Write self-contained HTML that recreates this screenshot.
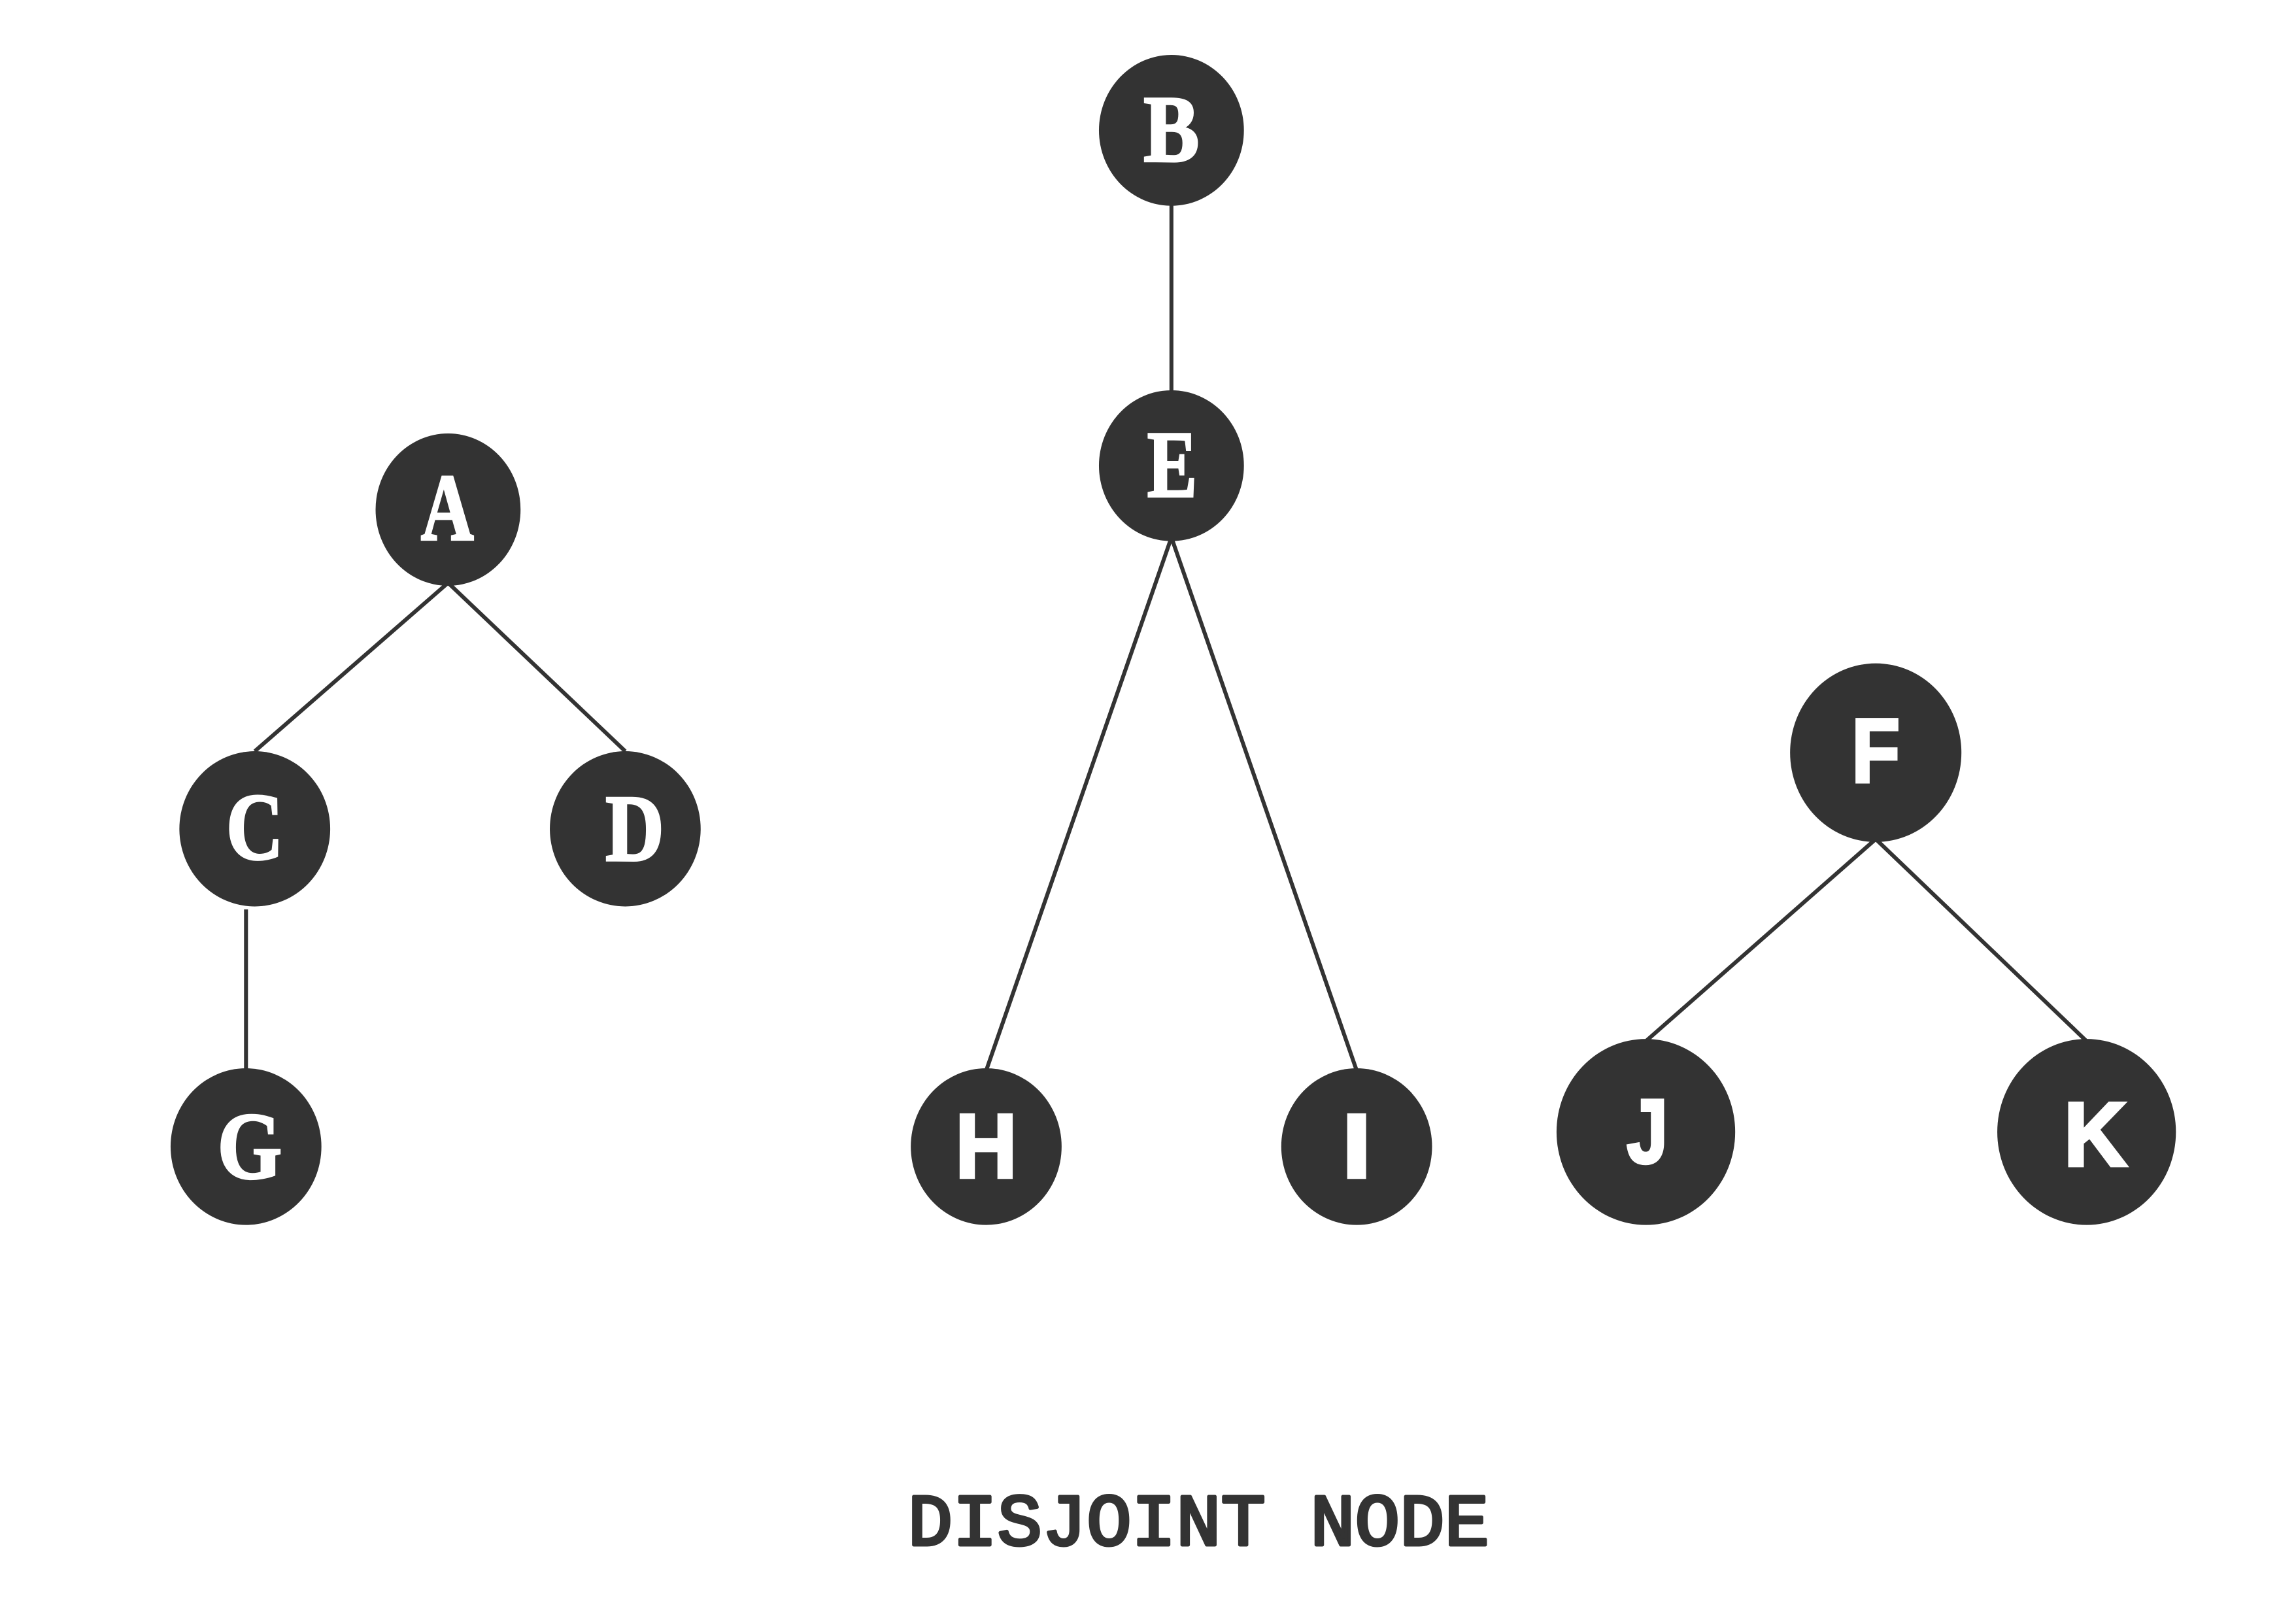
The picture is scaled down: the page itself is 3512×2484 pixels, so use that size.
<!DOCTYPE html>
<html>
<head>
<meta charset="utf-8">
<title>Disjoint Node</title>
<style>
html,body{margin:0;padding:0;background:#fff;}
svg{display:block;}
.edge{stroke:#333;stroke-width:2.7;fill:none;}
.node{fill:#333;}
.s{font-family:"Liberation Serif",serif;font-weight:bold;font-size:65px;fill:#fff;stroke:#fff;stroke-width:1.6;stroke-linejoin:miter;text-anchor:middle;}
.n{font-family:"Liberation Sans",sans-serif;font-weight:bold;font-size:62px;fill:#fff;stroke:#fff;stroke-width:2.2;stroke-linejoin:miter;text-anchor:middle;}
.t{font-family:"Liberation Mono",monospace;font-weight:normal;font-size:50px;fill:#333;stroke:#333;stroke-width:2.2;stroke-linejoin:round;stroke-linecap:round;}
</style>
</head>
<body>
<svg xmlns="http://www.w3.org/2000/svg" width="3512" height="2484" viewBox="0 0 1568 1109">
<rect width="1568" height="1109" fill="#fff"/>

<line class="edge" x1="800" y1="135" x2="800" y2="270"/>
<line class="edge" x1="306" y1="398" x2="174" y2="513"/>
<line class="edge" x1="306" y1="398" x2="427" y2="513"/>
<line class="edge" x1="168" y1="621" x2="168" y2="733"/>
<line class="edge" x1="800" y1="367" x2="673.5" y2="731"/>
<line class="edge" x1="800" y1="367" x2="926.5" y2="731"/>
<line class="edge" x1="1281" y1="573" x2="1124" y2="711"/>
<line class="edge" x1="1281" y1="573" x2="1425" y2="711"/>

<ellipse class="node" cx="800" cy="89" rx="49.5" ry="51.5"/>
<ellipse class="node" cx="800" cy="318" rx="49.5" ry="51.5"/>
<ellipse class="node" cx="306" cy="348" rx="49.5" ry="52"/>
<ellipse class="node" cx="174" cy="566" rx="51.5" ry="53"/>
<ellipse class="node" cx="427" cy="566" rx="51.5" ry="53"/>
<ellipse class="node" cx="168" cy="783" rx="51.5" ry="53.5"/>
<ellipse class="node" cx="673.5" cy="783" rx="51.5" ry="53.5"/>
<ellipse class="node" cx="926.5" cy="783" rx="51.5" ry="53.5"/>
<ellipse class="node" cx="1281" cy="514" rx="58.5" ry="61"/>
<ellipse class="node" cx="1124" cy="773" rx="61" ry="63.5"/>
<ellipse class="node" cx="1425" cy="773" rx="61" ry="63.5"/>

<text class="s" x="800" y="110" textLength="38" lengthAdjust="spacingAndGlyphs">B</text>
<text class="s" x="800.5" y="339" textLength="34" lengthAdjust="spacingAndGlyphs">E</text>
<text class="s" x="305.5" y="368.5" textLength="36" lengthAdjust="spacingAndGlyphs">A</text>
<text class="s" x="174" y="586.5" textLength="39" lengthAdjust="spacingAndGlyphs">C</text>
<text class="s" x="433.5" y="587.5" textLength="40" lengthAdjust="spacingAndGlyphs">D</text>
<text class="s" x="170.5" y="804.5" textLength="44" lengthAdjust="spacingAndGlyphs">G</text>
<text class="n" x="673.5" y="804" textLength="42" lengthAdjust="spacingAndGlyphs">H</text>
<text class="n" x="926.5" y="804" textLength="20" lengthAdjust="spacingAndGlyphs">I</text>
<text class="n" x="1281" y="534" textLength="33" lengthAdjust="spacingAndGlyphs">F</text>
<text class="n" x="1125" y="794" textLength="28" lengthAdjust="spacingAndGlyphs">J</text>
<text class="n" x="1431" y="796" textLength="43" lengthAdjust="spacingAndGlyphs">K</text>

<text class="t" x="620" y="1055" textLength="397" lengthAdjust="spacingAndGlyphs">DISJOINT NODE</text>
</svg>
</body>
</html>
